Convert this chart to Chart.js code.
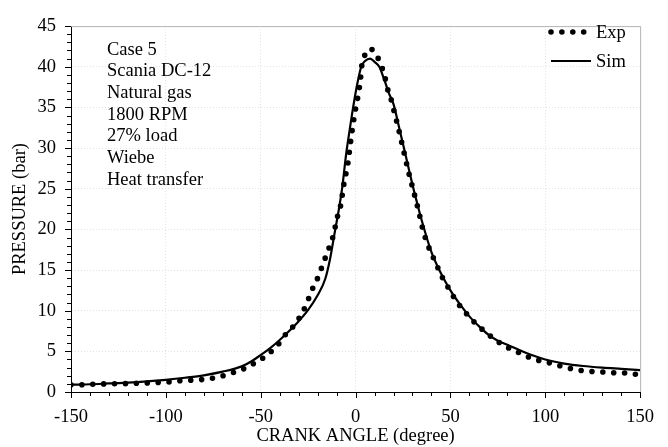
<!DOCTYPE html>
<html>
<head>
<meta charset="utf-8">
<script src="https://cdn.jsdelivr.net/npm/chart.js@4.4.1/dist/chart.umd.min.js"></script>
<style>
    html, body { margin: 0; padding: 0; background: #fff; }
    #wrap { width: 668px; height: 447px; }
</style>
</head>
<body>
<div id="wrap"><canvas id="pressureChart" width="668" height="447"></canvas></div>
<script>
// measured cylinder pressure (dotted)
const expAngle = [-150, -144, -138, -132, -126, -120, -115, -109, -104, -98, -92, -86, -80, -75, -69, -63, -58, -53, -48,
    -43.5, -39.5, -36.5, -32, -29, -26.3, -24.4, -22.3, -19.8, -17.7, -15.8, -13.7, -11.9, -9.3, -7.9, -6.2, -4, -2.6,
    -1, 0, 1, 2, 2.6, 3.2, 4.5, 7.7, 11.5, 13.8, 15.5, 16.7, 18.6, 20, 22.5, 25, 28, 30, 33, 35.8, 39.8, 42.3, 44.6,
    47.2, 50.2, 53.3, 56.8, 60.4, 64.4, 68.8, 73.2, 77.9, 83.3, 88.6, 93.8, 99.8, 105.3, 110.9, 116.5, 122.3, 128.1,
    133.7, 139.8, 145.4, 150];
const expPressure = [0.9, 0.9, 0.95, 1.0, 1.02, 1.03, 1.08, 1.12, 1.16, 1.25, 1.4, 1.45, 1.55, 1.7, 2.05, 2.5, 2.95, 3.6, 4.3,
    5.2, 6.2, 7.2, 8.3, 9.4, 10.6, 11.7, 12.9, 14.1, 15.4, 16.6, 17.9, 19.1, 21.8, 22.9, 25.5, 28.2, 30.8,
    33.4, 34.8, 36.0, 37.4, 38.5, 40.0, 41.2, 42.2, 41.2, 40.0, 38.7, 37.4, 36.1, 34.8, 32.5, 30, 27, 25.2, 22.5, 19.7, 17.1, 15.9, 14.6,
    13.5, 12.3, 11.1, 10.1, 9.1, 8.2, 7.3, 6.5, 5.76, 5.13, 4.57, 4.05, 3.73, 3.38, 3.02, 2.74, 2.54, 2.5,
    2.39, 2.34, 2.3, 1.95];

// simulated pressure (solid)
const simAngle = [-150, -140, -130, -120, -110, -100, -90, -80, -70, -60, -55, -50, -45, -40, -35, -30, -25, -20, -16, -13.5,
    -11, -9, -7, -5, -3, -1, 1, 3, 5, 7.7, 10, 12.5, 15, 17.5, 20, 22.5, 25, 27.5, 30, 32.5, 35, 40, 45, 50, 55, 60,
    65, 70, 75, 80, 90, 100, 110, 120, 130, 140, 150];
const simPressure = [0.9, 0.95, 1.05, 1.15, 1.3, 1.5, 1.75, 2.05, 2.5, 3.15, 3.75, 4.55, 5.4, 6.4, 7.5, 8.7, 10.1, 11.9, 13.9, 16.3,
    19.6, 22.2, 25.2, 29.2, 32.4, 35.4, 38.0, 40.0, 40.7, 41.0, 40.6, 40.0, 38.5, 36.8, 35.4, 33, 30.5, 28, 25.5, 23.2, 21, 17.2, 14.6, 12.5, 10.8, 9.3,
    8.1, 7.05, 6.3, 5.8, 4.8, 4.0, 3.5, 3.2, 3.0, 2.85, 2.7];

const angleTicks = [-150, -100, -50, 0, 50, 100, 150];
const pressureTicks = [0, 5, 10, 15, 20, 25, 30, 35, 40, 45];
const caseNotes = ['Case 5', 'Scania DC-12', 'Natural gas', '1800 RPM', '27% load', 'Wiebe', 'Heat transfer'];
const seriesNames = ['Exp', 'Sim'];

const SERIF = '"Liberation Serif", "Times New Roman", serif';
const FONT = { family: SERIF, size: 18.5 };

function toPoints(xs, ys) {
    return xs.map((x, i) => ({ x: x, y: ys[i] }));
}

// ticks, frame, notes and legend drawn inside the plot
const overlayPlugin = {
    id: 'overlay',
    afterDraw(chart) {
        const ctx = chart.ctx;
        const area = chart.chartArea;
        const xs = chart.scales.x;
        const ys = chart.scales.y;
        ctx.save();

        // grey frame on top and right
        ctx.strokeStyle = '#b4b4b4';
        ctx.lineWidth = 1;
        ctx.beginPath();
        ctx.moveTo(area.left, area.top + 0.5);
        ctx.lineTo(area.right + 0.5, area.top + 0.5);
        ctx.lineTo(area.right + 0.5, area.bottom);
        ctx.stroke();

        // tick marks
        ctx.strokeStyle = '#000';
        ctx.beginPath();
        for (let v = -150; v <= 150; v += 10) {
            const px = Math.round(xs.getPixelForValue(v)) + 0.5;
            const len = v % 50 === 0 ? 6 : 4;
            ctx.moveTo(px, area.bottom);
            ctx.lineTo(px, area.bottom + len);
        }
        for (let v = 0; v <= 45; v += 1) {
            const py = Math.round(ys.getPixelForValue(v)) + 0.5;
            const len = v % 5 === 0 ? 6 : 4;
            ctx.moveTo(area.left, py);
            ctx.lineTo(area.left - len, py);
        }
        ctx.stroke();

        // case description
        ctx.fillStyle = '#000';
        ctx.font = '18.5px ' + SERIF;
        ctx.textBaseline = 'alphabetic';
        ctx.textAlign = 'left';
        caseNotes.forEach((line, i) => {
            ctx.fillText(line, 107, 54.5 + i * 21.7);
        });

        // legend
        const sets = chart.data.datasets;
        ctx.fillText(seriesNames[0], 596, 38);
        ctx.fillText(seriesNames[1], 596, 67);

        ctx.lineCap = 'round';
        ctx.lineWidth = sets[0].borderWidth;
        ctx.setLineDash(sets[0].borderDash);
        ctx.beginPath();
        ctx.moveTo(551, 32);
        ctx.lineTo(588, 32);
        ctx.stroke();

        ctx.setLineDash([]);
        ctx.lineCap = 'butt';
        ctx.lineWidth = sets[1].borderWidth;
        ctx.beginPath();
        ctx.moveTo(551, 61);
        ctx.lineTo(591, 61);
        ctx.stroke();

        ctx.restore();
    }
};

const edgeTransparent = (lo, hi) => (c) => {
    const v = c.tick ? c.tick.value : null;
    return (v === lo || v === hi) ? 'rgba(0,0,0,0)' : '#e2e2e2';
};

new Chart(document.getElementById('pressureChart').getContext('2d'), {
    type: 'line',
    data: {
        datasets: [{
            label: seriesNames[0],
            data: toPoints(expAngle, expPressure),
            borderColor: '#000',
            borderWidth: 5.6,
            borderDash: [0, 10.9],
            borderCapStyle: 'round',
            cubicInterpolationMode: 'monotone',
            pointRadius: 0,
            fill: false
        }, {
            label: seriesNames[1],
            data: toPoints(simAngle, simPressure),
            borderColor: '#000',
            borderWidth: 2.2,
            cubicInterpolationMode: 'monotone',
            pointRadius: 0,
            fill: false
        }]
    },
    options: {
        responsive: false,
        animation: false,
        events: [],
        layout: { padding: { top: 15, right: 27, left: 0, bottom: 0 } },
        plugins: {
            legend: { display: false },
            tooltip: { enabled: false }
        },
        scales: {
            x: {
                type: 'linear',
                min: -150,
                max: 150,
                afterBuildTicks: (s) => { s.ticks = angleTicks.map(v => ({ value: v })); },
                afterFit: (s) => { s.height = 55; },
                ticks: { color: '#000', font: FONT, padding: 14, maxRotation: 0 },
                grid: { color: edgeTransparent(-150, 150), drawTicks: false, lineWidth: 1 },
                border: { color: '#000', width: 1, dash: [1, 2] },
                title: { display: true, text: 'CRANK ANGLE (degree)', color: '#000', font: FONT, padding: { top: 0, bottom: 0 } }
            },
            y: {
                type: 'linear',
                min: 0,
                max: 45,
                afterBuildTicks: (s) => { s.ticks = pressureTicks.map(v => ({ value: v })); },
                afterFit: (s) => { s.width = 71; },
                ticks: { color: '#000', font: FONT, padding: 15 },
                grid: { color: edgeTransparent(0, 45), drawTicks: false, lineWidth: 1 },
                border: { color: '#000', width: 1, dash: [1, 2] },
                title: { display: true, text: 'PRESSURE (bar)', color: '#000', font: FONT, padding: { top: 9, bottom: 0 } }
            }
        }
    },
    plugins: [overlayPlugin]
});
</script>
</body>
</html>
